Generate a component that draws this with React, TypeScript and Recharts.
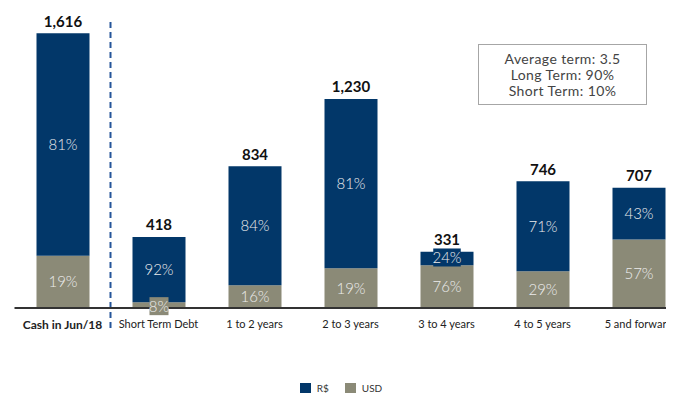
import { BarChart, Bar, XAxis, YAxis, LabelList, Legend, ReferenceLine } from "recharts";

const categories = [
  "Cash in Jun/18",
  "Short Term Debt",
  "1 to 2 years",
  "2 to 3 years",
  "3 to 4 years",
  "4 to 5 years",
  "5 and forward",
];
const totals = [1616, 418, 834, 1230, 331, 746, 707];
const brlPct = [81, 92, 84, 81, 24, 71, 43];
const usdPct = [19, 8, 16, 19, 76, 29, 57];
const boxLines = ["Average term: 3.5", "Long Term: 90%", "Short Term: 10%"];

const BLUE = "#023769";
const GRAY = "#8b8a77";
const FONT = "Lato, 'Open Sans', sans-serif";

const rows = categories.map((name, i) => ({
  name,
  total: totals[i],
  usd: (totals[i] * usdPct[i]) / 100,
  brl: (totals[i] * brlPct[i]) / 100,
  usdLabel: `${usdPct[i]}%`,
  brlLabel: `${brlPct[i]}%`,
}));

const SMALL = 18;

function pctText(cx: number, cy: number, text: string, fill: string, boxed: boolean) {
  const tw = text.length * 8.5 + 2;
  return (
    <g>
      {boxed && <rect x={cx - tw / 2} y={cy - 9} width={tw} height={18} fill={fill} />}
      <text
        x={cx}
        y={cy}
        dy="0.36em"
        textAnchor="middle"
        fill="#ececec"
        fontSize={15}
        fontWeight={300}
        fontFamily={FONT}
      >
        {text}
      </text>
    </g>
  );
}

function segmentLabel(props: any) {
  const { x, y, width, height, value } = props;
  if (height < SMALL) return null;
  return pctText(x + width / 2, y + height / 2, String(value), "", false);
}

// top-most layer: totals plus the boxed labels of thin segments
function totalLabel(props: any) {
  const { x, y, width, height, value, index } = props;
  const row = rows[index];
  const cx = x + width / 2;
  const usdH = (height * row.usd) / row.brl;
  return (
    <g>
      {height < SMALL && pctText(cx, y + height / 2 - 1, row.brlLabel, BLUE, true)}
      {usdH < SMALL && pctText(cx, y + height + usdH / 2 + 1, row.usdLabel, GRAY, true)}
      <text
        x={cx}
        y={y - 12}
        dy="0.36em"
        textAnchor="middle"
        fill="#111"
        fontSize={15}
        fontWeight={700}
        fontFamily={FONT}
      >
        {Number(value).toLocaleString("en-US")}
      </text>
    </g>
  );
}

function CategoryTick(props: any) {
  const { x, y, payload } = props;
  const first = payload.value === categories[0];
  return (
    <text
      x={x}
      y={y + 2}
      dy="0.71em"
      textAnchor="middle"
      fill="#222"
      fontSize={first ? 12 : 11}
      fontWeight={first ? 700 : 400}
      fontFamily={FONT}
    >
      {payload.value}
    </text>
  );
}

function LegendContent() {
  const items = [
    { label: "R$", color: BLUE },
    { label: "USD", color: GRAY },
  ];
  return (
    <div style={{ display: "flex", justifyContent: "center", gap: 16, fontFamily: FONT, fontSize: 10, color: "#333" }}>
      {items.map((it) => (
        <div key={it.label} style={{ display: "flex", alignItems: "center", gap: 6 }}>
          <span style={{ width: 11, height: 11, background: it.color, display: "inline-block" }} />
          <span>{it.label}</span>
        </div>
      ))}
    </div>
  );
}

export default function App() {
  return (
    <div style={{ position: "relative", width: 666, height: 385, overflow: "hidden" }}>
      <BarChart
        width={690}
        height={385}
        data={rows}
        margin={{ top: 11, right: 11.5, left: 6.5, bottom: 55 }}
        barSize={53}
      >
        <XAxis
          dataKey="name"
          tickLine={false}
          axisLine={{ stroke: "#333", strokeWidth: 2 }}
          tick={<CategoryTick />}
          tickMargin={4}
          height={30}
          interval={0}
        />
        <YAxis hide domain={[0, 1700]} />
        <ReferenceLine
          x={categories[0]}
          position="end"
          stroke="#24559a"
          strokeWidth={2}
          strokeDasharray="6 4"
          ifOverflow="visible"
          shape={(p: any) => (
            <line
              x1={p.x1}
              x2={p.x2}
              y1={Math.min(p.y1, p.y2) + 3}
              y2={Math.max(p.y1, p.y2) + 22}
              stroke="#24559a"
              strokeWidth={2}
              strokeDasharray="6 4"
            />
          )}
        />
        <Bar dataKey="usd" stackId="a" fill={GRAY} isAnimationActive={false}>
          <LabelList dataKey="usdLabel" content={segmentLabel} />
        </Bar>
        <Bar dataKey="brl" stackId="a" fill={BLUE} isAnimationActive={false}>
          <LabelList dataKey="brlLabel" content={segmentLabel} />
          <LabelList dataKey="total" content={totalLabel} />
        </Bar>
        <Legend
          verticalAlign="middle"
          align="center"
          content={<LegendContent />}
          wrapperStyle={{ top: 374, left: 0, width: 666 }}
        />
      </BarChart>
      <div
        style={{
          position: "absolute",
          left: 470,
          top: 36,
          width: 167,
          height: 59,
          border: "1.5px solid #a6a6a6",
          display: "flex",
          flexDirection: "column",
          justifyContent: "center",
          alignItems: "center",
          fontFamily: FONT,
          fontSize: 14,
          letterSpacing: "0.4px",
          lineHeight: "16px",
          color: "#444",
          background: "#fff",
        }}
      >
        {boxLines.map((l) => (
          <div key={l}>{l}</div>
        ))}
      </div>
    </div>
  );
}
